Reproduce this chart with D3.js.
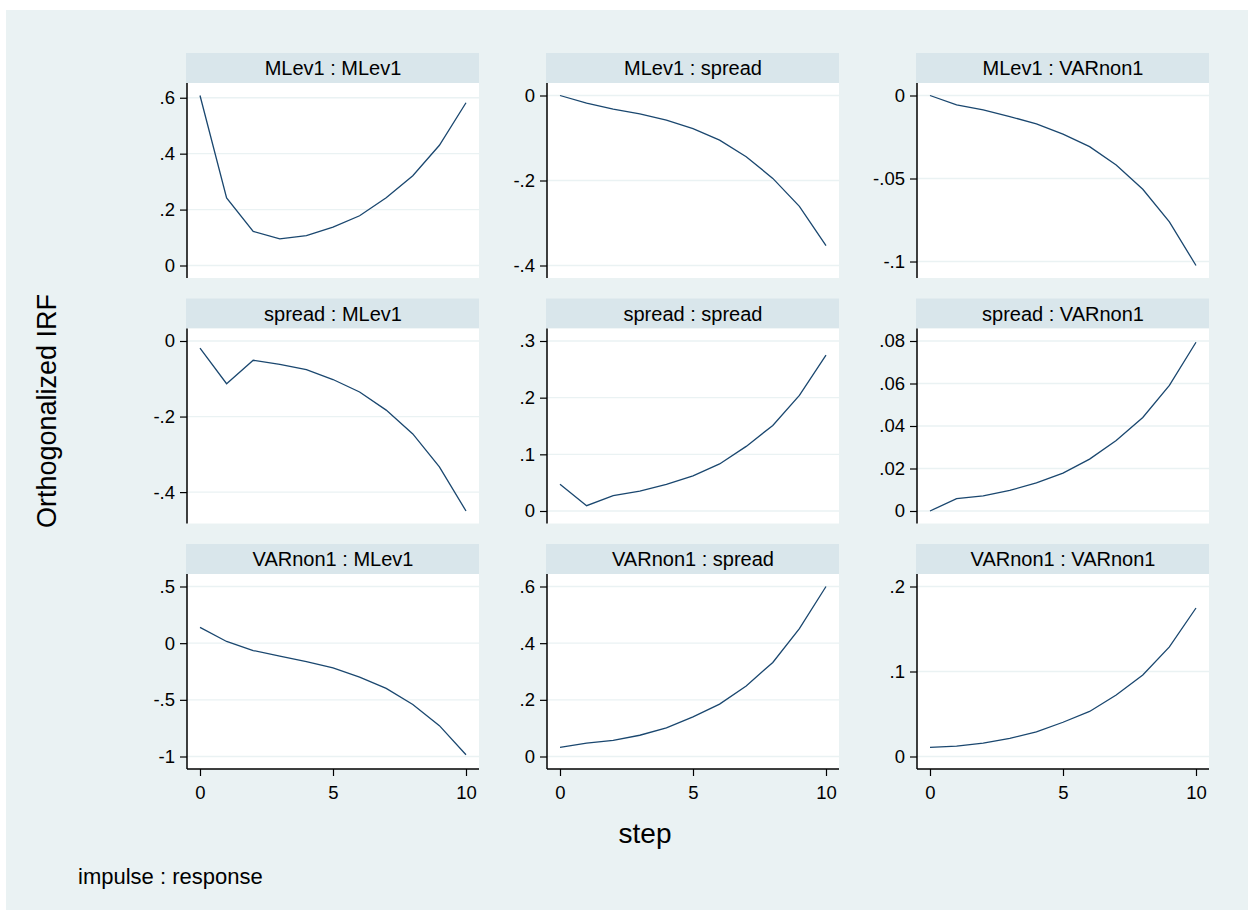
<!DOCTYPE html>
<html>
<head>
<meta charset="utf-8">
<script src="https://cdn.jsdelivr.net/npm/d3@7"></script>
<style>
  body { margin: 0; background: #ffffff; }
  svg { display: block; font-family: Arial, 'Liberation Sans', sans-serif; }
</style>
</head>
<body>
<svg width="1250" height="911"></svg>
<script>
//## DATA ##
const steps = [0, 1, 2, 3, 4, 5, 6, 7, 8, 9, 10]
const xTicks = [0, 5, 10]

// impulse : response titles, row by row
const titles = [
  'MLev1 : MLev1', 'MLev1 : spread', 'MLev1 : VARnon1',
  'spread : MLev1', 'spread : spread', 'spread : VARnon1',
  'VARnon1 : MLev1', 'VARnon1 : spread', 'VARnon1 : VARnon1'
]

// orthogonalized IRF per panel
const mlev1Mlev1 = [0.608, 0.242, 0.122, 0.095, 0.107, 0.137, 0.178, 0.242, 0.321, 0.430, 0.582]
const mlev1Spread = [0, -0.018, -0.032, -0.043, -0.058, -0.078, -0.105, -0.144, -0.195, -0.261, -0.353]
const mlev1Varnon1 = [0, -0.0056, -0.0087, -0.0127, -0.0171, -0.0233, -0.0308, -0.0419, -0.0565, -0.0761, -0.1024]
const spreadMlev1 = [-0.019, -0.113, -0.051, -0.062, -0.076, -0.102, -0.135, -0.183, -0.246, -0.333, -0.450]
const spreadSpread = [0.047, 0.0094, 0.027, 0.035, 0.047, 0.062, 0.083, 0.114, 0.151, 0.204, 0.275]
const spreadVarnon1 = [0, 0.0058, 0.0071, 0.0097, 0.0132, 0.0178, 0.0244, 0.0332, 0.0440, 0.0591, 0.0794]
const varnon1Mlev1 = [0.139, 0.015, -0.065, -0.115, -0.163, -0.219, -0.299, -0.399, -0.541, -0.728, -0.985]
const varnon1Spread = [0.032, 0.047, 0.057, 0.075, 0.101, 0.140, 0.185, 0.249, 0.332, 0.451, 0.600]
const varnon1Varnon1 = [0.0107, 0.0123, 0.0158, 0.0213, 0.0289, 0.0403, 0.0530, 0.0723, 0.0960, 0.1289, 0.1747]

const series = [
  mlev1Mlev1, mlev1Spread, mlev1Varnon1,
  spreadMlev1, spreadSpread, spreadVarnon1,
  varnon1Mlev1, varnon1Spread, varnon1Varnon1
]

// y tick values per panel
const yTicks = [
  [0, 0.2, 0.4, 0.6], [0, -0.2, -0.4], [0, -0.05, -0.1],
  [0, -0.2, -0.4], [0, 0.1, 0.2, 0.3], [0, 0.02, 0.04, 0.06, 0.08],
  [0.5, 0, -0.5, -1], [0, 0.2, 0.4, 0.6], [0, 0.1, 0.2]
]

//## LAYOUT ##
const svg = d3.select('svg')
const colLeft = [187, 547, 917]
const rowTop = [53, 298.5, 544]
const panelW = 292
const headerH = 30
const plotH = 195
const padX = 13
const padY = 12.5

const colors = {
  graph: '#eaf2f3',
  header: '#d9e6eb',
  grid: '#eaf2f3',
  line: '#1a476f'
}

// Stata style labels: .6, -.05
const stataFormat = v => {
  if (v === 0) return '0'
  return String(+v.toFixed(4)).replace(/^(-?)0\./, '$1.')
}

//## DRAW ##
svg.append('rect')
  .attr('x', 6).attr('y', 10)
  .attr('width', 1242).attr('height', 900)
  .attr('fill', colors.graph)

const drawPanel = function(i){
  const col = i % 3
  const row = Math.floor(i / 3)
  const left = colLeft[col]
  const right = left + panelW
  const top = rowTop[row]
  const plotTop = top + headerH
  const plotBottom = plotTop + plotH
  const values = series[i]
  const ticks = yTicks[i]

  const g = svg.append('g').attr('class', 'panel')

  // header strip
  g.append('rect')
    .attr('x', left - 1).attr('y', top)
    .attr('width', panelW + 1).attr('height', headerH)
    .attr('fill', colors.header)

  g.append('text')
    .attr('x', (left + right) / 2)
    .attr('y', top + 22)
    .attr('text-anchor', 'middle')
    .style('font-size', '20px')
    .text(titles[i])

  // plot region
  g.append('rect')
    .attr('x', left).attr('y', plotTop)
    .attr('width', panelW).attr('height', plotH)
    .attr('fill', '#ffffff')

  const scaleX = d3.scaleLinear()
    .domain(d3.extent(steps))
    .range([left + padX, right - padX])

  const scaleY = d3.scaleLinear()
    .domain(d3.extent(values.concat(ticks)))
    .range([plotBottom - padY, plotTop + padY])

  // gridlines
  g.selectAll('.grid').data(ticks)
    .enter().append('line')
      .attr('class', 'grid')
      .attr('x1', left).attr('x2', right)
      .attr('y1', d => scaleY(d)).attr('y2', d => scaleY(d))
      .attr('stroke', colors.grid)
      .attr('stroke-width', 1.3)

  // y axis
  const yAxisGroup = g.append('g')
    .attr('transform', 'translate(' + left + ',0)')
    .call(d3.axisLeft(scaleY).tickValues(ticks).tickFormat(stataFormat).tickSize(7).tickPadding(5))

  yAxisGroup.select('.domain').remove()
  yAxisGroup.selectAll('.tick line').attr('stroke', '#000').attr('stroke-width', 1.2)
  yAxisGroup.selectAll('.tick text')
    .style('font-size', '18.5px')
    .attr('fill', '#000')
    .attr('font-family', null)

  g.append('line')
    .attr('x1', left).attr('x2', left)
    .attr('y1', plotTop).attr('y2', plotBottom)
    .attr('stroke', '#000').attr('stroke-width', 1.5)

  // x axis on the bottom row only
  if (row === 2){
    const xAxisGroup = g.append('g')
      .attr('transform', 'translate(0,' + plotBottom + ')')
      .call(d3.axisBottom(scaleX).tickValues(xTicks).tickSize(7).tickPadding(10))

    xAxisGroup.select('.domain').remove()
    xAxisGroup.selectAll('.tick line').attr('stroke', '#000').attr('stroke-width', 1.2)
    xAxisGroup.selectAll('.tick text')
      .style('font-size', '18.5px')
      .attr('fill', '#000')
      .attr('font-family', null)

    g.append('line')
      .attr('x1', left).attr('x2', right)
      .attr('y1', plotBottom).attr('y2', plotBottom)
      .attr('stroke', '#000').attr('stroke-width', 1.5)
  }

  // the IRF line
  const line = d3.line()
    .x((d, j) => scaleX(steps[j]))
    .y(d => scaleY(d))

  g.append('path')
    .datum(values)
    .attr('d', line)
    .attr('fill', 'none')
    .attr('stroke', colors.line)
    .attr('stroke-width', 1.3)
}

titles.forEach((t, i) => drawPanel(i))

// titles
svg.append('text')
  .attr('transform', 'translate(47,' + ((rowTop[0] + rowTop[2] + headerH + plotH) / 2) + ') rotate(-90)')
  .attr('text-anchor', 'middle')
  .attr('dy', '0.35em')
  .style('font-size', '27px')
  .text('Orthogonalized IRF')

svg.append('text')
  .attr('x', 645).attr('y', 843)
  .attr('text-anchor', 'middle')
  .style('font-size', '28px')
  .text('step')

svg.append('text')
  .attr('x', 78).attr('y', 884)
  .style('font-size', '22px')
  .text('impulse : response')
</script>
</body>
</html>
